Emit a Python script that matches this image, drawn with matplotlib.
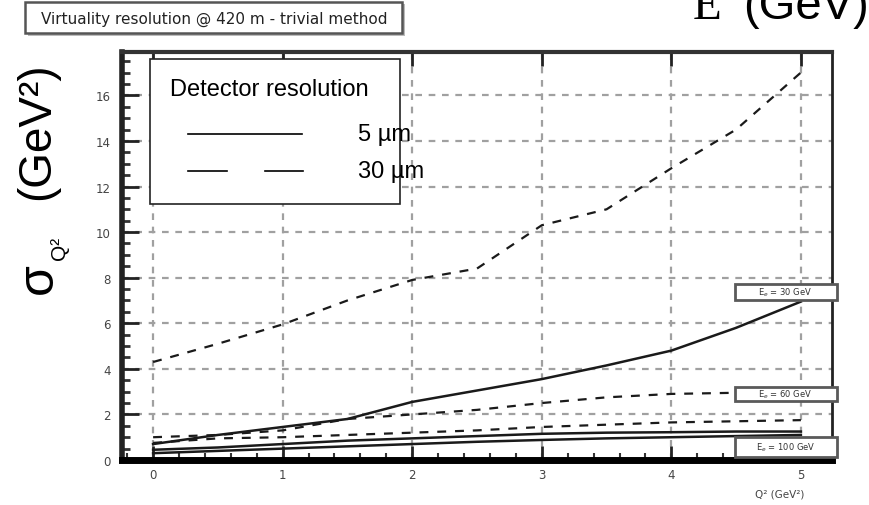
import numpy as np
import matplotlib.pyplot as plt
from matplotlib.lines import Line2D
from matplotlib.patches import Rectangle
from matplotlib.ticker import MultipleLocator

# Q^2 sampling points (GeV^2)
q2 = [0.0, 0.5, 1.0, 1.5, 2.0, 2.5, 3.0, 3.5, 4.0, 4.5, 5.0]

# sigma_Q2 (GeV^2) for each beam energy and detector resolution
e30_30um = [4.3, 5.1, 5.95, 7.0, 7.9, 8.4, 10.3, 11.0, 12.8, 14.5, 17.0]
e30_5um = [0.7, 1.1, 1.45, 1.8, 2.55, 3.05, 3.55, 4.15, 4.8, 5.8, 6.95]
e60_30um = [1.0, 1.1, 1.3, 1.8, 2.0, 2.2, 2.5, 2.75, 2.9, 2.95, 2.95]
e100_30um = [0.75, 0.95, 1.0, 1.1, 1.2, 1.3, 1.45, 1.55, 1.65, 1.7, 1.75]
e60_5um = [0.45, 0.55, 0.7, 0.85, 0.95, 1.05, 1.15, 1.2, 1.22, 1.25, 1.25]
e100_5um = [0.3, 0.4, 0.5, 0.6, 0.7, 0.8, 0.88, 0.95, 1.0, 1.05, 1.1]

energy_labels = ["30", "60", "100"]

fig = plt.figure(figsize=(8.69, 5.06), dpi=100)
ax = fig.add_axes([0.1404, 0.0889, 0.817, 0.8063])

dash = (0, (4, 4))
for ys in [e30_30um, e60_30um, e100_30um]:
    ax.plot(q2, ys, color="#1a1a1a", lw=1.6, linestyle=dash, zorder=3)
for ys in [e30_5um, e60_5um, e100_5um]:
    ax.plot(q2, ys, color="#1a1a1a", lw=1.8, zorder=3)

ax.set_xlim(-0.24, 5.24)
ax.set_ylim(0, 17.9)
ax.xaxis.set_major_locator(MultipleLocator(1))
ax.xaxis.set_minor_locator(MultipleLocator(0.2))
ax.yaxis.set_major_locator(MultipleLocator(2))
ax.yaxis.set_minor_locator(MultipleLocator(0.5))

ax.grid(True, which="major", color="#a0a0a0", lw=1.6, linestyle=(0, (3, 3)))
ax.tick_params(axis="both", which="major", direction="in", labelsize=8.5,
               labelcolor="#444444", width=2, color="#222222")
ax.tick_params(axis="y", which="major", length=12, pad=8)
ax.tick_params(axis="y", which="minor", direction="in", length=6, width=2, color="#333333")
ax.tick_params(axis="x", which="major", length=10, pad=6, top=True)
ax.tick_params(axis="x", which="minor", direction="in", length=5, width=1.5, color="#333333")

ax.spines["left"].set_linewidth(4)
ax.spines["left"].set_color("#222222")
ax.spines["bottom"].set_linewidth(5)
ax.spines["bottom"].set_color("black")
ax.spines["top"].set_linewidth(3)
ax.spines["top"].set_color("#333333")
ax.spines["right"].set_linewidth(2)
ax.spines["right"].set_color("#222222")

# detector-resolution key
leg = Rectangle((0.1726, 0.595), 0.288, 0.287, transform=fig.transFigure,
                facecolor="white", edgecolor="#222222", lw=1.2, zorder=10)
fig.patches.append(leg)
fig.text(0.196, 0.822, "Detector resolution", fontsize=17, family="Liberation Sans",
         va="center", zorder=11)
fig.lines.append(Line2D([0.2163, 0.3475], [0.733, 0.733], transform=fig.transFigure,
                        color="black", lw=1.2, zorder=11))
for x0, x1 in [(0.2163, 0.2612), (0.3050, 0.3487)]:
    fig.lines.append(Line2D([x0, x1], [0.660, 0.660], transform=fig.transFigure,
                            color="black", lw=1.2, zorder=11))
fig.text(0.412, 0.733, "5 µm", fontsize=17, family="Liberation Sans", va="center", zorder=11)
fig.text(0.412, 0.660, "30 µm", fontsize=17, family="Liberation Sans", va="center", zorder=11)

# beam energy tags at the curve ends
tag_y = [1 - 301 / 506, 1 - 402 / 506, 1 - 458 / 506]
tag_h = [16 / 506, 14 / 506, 20 / 506]
for lab, y0, h in zip(energy_labels, tag_y, tag_h):
    fig.patches.append(Rectangle((0.846, y0), 0.117, h, transform=fig.transFigure,
                                 facecolor="white", edgecolor="#5a5a5a", lw=2, zorder=10))
    fig.text(0.904, y0 + h / 2, r"E$_e$ = " + lab + " GeV", fontsize=6, color="#333333",
             ha="center", va="center", zorder=11)

# title box
fig.patches.append(Rectangle((0.032, 0.926), 0.434, 0.065, transform=fig.transFigure,
                             facecolor="#bbbbbb", edgecolor="none", zorder=9))
fig.patches.append(Rectangle((0.029, 0.932), 0.434, 0.063, transform=fig.transFigure,
                             facecolor="white", edgecolor="#555555", lw=1.8, zorder=10))
fig.text(0.246, 0.962, "Virtuality resolution @ 420 m - trivial method", fontsize=11,
         family=["Liberation Sans Narrow", "DejaVu Sans"], color="#222222",
         ha="center", va="center", zorder=11)

# axis titles
fig.text(0.045, 0.45, "σ", fontsize=36, rotation=90, ha="center", va="center",
         family="Liberation Sans")
fig.text(0.069, 0.51, "Q²", fontsize=15, rotation=90, ha="center", va="center",
         family="Liberation Sans")
fig.text(0.043, 0.74, "(GeV²)", fontsize=33, rotation=90, ha="center", va="center",
         family="Liberation Sans")
fig.text(0.926, 0.022, "Q² (GeV²)", fontsize=7.5, color="#444444", ha="right", va="center")

fig.text(0.797, 0.962, "E", fontsize=34, family="Liberation Serif", va="baseline")
fig.text(0.855, 0.962, "(GeV)", fontsize=34, family="Liberation Sans", va="baseline")

fig.savefig("out.png", dpi=100)
